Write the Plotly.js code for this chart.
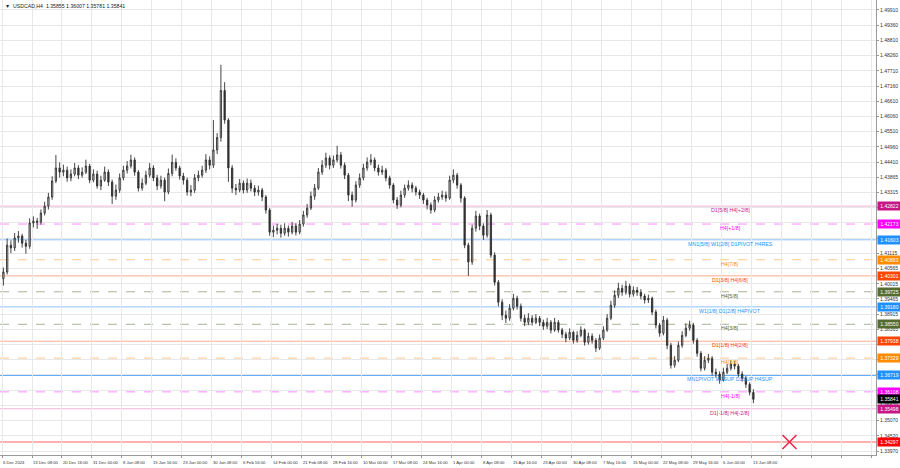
<!DOCTYPE html>
<html><head><meta charset="utf-8">
<script src="https://cdn.plot.ly/plotly-3.0.1.min.js"></script>
<style>html,body{margin:0;padding:0;background:#fff}#chart{width:900px;height:468px}</style>
</head><body><div id="chart"></div>
<script>
// H4 bars grouped by 4 (one candle = 4 H4 bars)
const openP = [1.4020,
1.4044,1.4141,1.4131,1.4167,1.4174,1.4148,1.4137,1.4221,1.4228,1.4224,
1.4257,1.4282,1.4315,1.4373,1.4420,1.4405,1.4412,1.4384,1.4398,1.4420,
1.4394,1.4405,1.4427,1.4376,1.4398,1.4355,1.4376,1.4405,1.4369,1.4318,
1.4340,1.4384,1.4412,1.4427,1.4449,1.4405,1.4347,1.4365,1.4394,1.4420,
1.4384,1.4355,1.4376,1.4333,1.4400,1.4440,1.4420,1.4391,1.4376,1.4333,
1.4340,1.4384,1.4394,1.4412,1.4449,1.4430,1.4485,1.4530,1.4700,1.4593,
1.4420,1.4347,1.4340,1.4365,1.4340,1.4365,1.4347,1.4333,1.4340,1.4315,
1.4268,1.4188,1.4195,1.4202,1.4184,1.4202,1.4188,1.4210,1.4188,1.4217,
1.4250,1.4275,1.4318,1.4347,1.4405,1.4430,1.4456,1.4430,1.4449,1.4467,
1.4430,1.4394,1.4322,1.4304,1.4358,1.4384,1.4420,1.4441,1.4449,1.4420,
1.4405,1.4412,1.4384,1.4358,1.4304,1.4286,1.4322,1.4347,1.4358,1.4347,
1.4333,1.4322,1.4304,1.4286,1.4268,1.4304,1.4315,1.4322,1.4311,1.4376,
1.4394,1.4358,1.4311,1.4141,1.4080,1.4202,1.4246,1.4210,1.4177,1.4250,
1.4105,1.4007,1.3935,1.3888,1.3877,1.3913,1.3949,1.3920,1.3877,1.3862,
1.3877,1.3862,1.3877,1.3862,1.3848,1.3862,1.3834,1.3862,1.3834,1.3819,
1.3805,1.3826,1.3797,1.3815,1.3834,1.3790,1.3812,1.3797,1.3769,1.3805,
1.3834,1.3877,1.3924,1.3960,1.3985,1.3971,1.3993,1.3964,1.3978,1.3971,
1.3957,1.3943,1.3949,1.3899,1.3852,1.3823,1.3870,1.3779,1.3707,1.3725,
1.3779,1.3815,1.3841,1.3852,1.3797,1.3750,1.3696,1.3725,1.3732,1.3682,
1.3675,1.3653,1.3682,1.3696,1.3711,1.3704,1.3675,1.3660,1.3638,1.3609];
const highP = [
1.4060,1.4165,1.4158,1.4185,1.4192,1.4182,1.4160,1.4238,1.4245,1.4240,
1.4270,1.4298,1.4330,1.4390,1.4467,1.4440,1.4432,1.4425,1.4415,1.4438,
1.4430,1.4422,1.4450,1.4435,1.4415,1.4410,1.4392,1.4425,1.4415,1.4378,
1.4360,1.4400,1.4428,1.4445,1.4468,1.4458,1.4412,1.4382,1.4410,1.4438,
1.4430,1.4395,1.4392,1.4385,1.4418,1.4468,1.4455,1.4428,1.4402,1.4385,
1.4358,1.4398,1.4410,1.4428,1.4470,1.4462,1.4593,1.4546,1.4793,1.4730,
1.4600,1.4430,1.4362,1.4380,1.4375,1.4382,1.4378,1.4358,1.4356,1.4348,
1.4322,1.4275,1.4212,1.4218,1.4215,1.4220,1.4212,1.4225,1.4220,1.4232,
1.4265,1.4290,1.4335,1.4362,1.4420,1.4448,1.4475,1.4465,1.4465,1.4500,
1.4478,1.4440,1.4402,1.4335,1.4372,1.4400,1.4435,1.4458,1.4470,1.4458,
1.4432,1.4428,1.4420,1.4392,1.4365,1.4315,1.4338,1.4360,1.4375,1.4368,
1.4355,1.4342,1.4330,1.4312,1.4295,1.4318,1.4330,1.4338,1.4335,1.4392,
1.4415,1.4402,1.4365,1.4318,1.4150,1.4215,1.4265,1.4255,1.4220,1.4268,
1.4258,1.4115,1.4015,1.3945,1.3905,1.3928,1.3965,1.3958,1.3930,1.3890,
1.3895,1.3888,1.3892,1.3885,1.3872,1.3878,1.3870,1.3878,1.3870,1.3842,
1.3828,1.3840,1.3832,1.3830,1.3848,1.3840,1.3825,1.3822,1.3805,1.3818,
1.3848,1.3892,1.3940,1.3978,1.4005,1.3998,1.4012,1.4002,1.3992,1.3990,
1.3982,1.3965,1.3962,1.3955,1.3908,1.3860,1.3885,1.3878,1.3788,1.3740,
1.3792,1.3830,1.3858,1.3868,1.3860,1.3805,1.3758,1.3740,1.3748,1.3740,
1.3695,1.3685,1.3698,1.3712,1.3725,1.3722,1.3712,1.3685,1.3668,1.3645,
1.3620];
const lowP = [
1.3995,1.4035,1.4112,1.4120,1.4150,1.4132,1.4110,1.4128,1.4205,1.4200,
1.4215,1.4248,1.4270,1.4305,1.4365,1.4385,1.4390,1.4370,1.4372,1.4390,
1.4380,1.4385,1.4398,1.4365,1.4368,1.4345,1.4340,1.4370,1.4355,1.4290,
1.4305,1.4330,1.4375,1.4400,1.4418,1.4392,1.4335,1.4338,1.4358,1.4385,
1.4372,1.4340,1.4345,1.4300,1.4325,1.4390,1.4410,1.4378,1.4360,1.4320,
1.4318,1.4330,1.4372,1.4385,1.4402,1.4415,1.4420,1.4470,1.4515,1.4580,
1.4370,1.4330,1.4322,1.4332,1.4328,1.4330,1.4335,1.4318,1.4320,1.4300,
1.4255,1.4175,1.4170,1.4180,1.4168,1.4175,1.4172,1.4180,1.4176,1.4180,
1.4208,1.4240,1.4268,1.4305,1.4340,1.4395,1.4420,1.4415,1.4420,1.4440,
1.4418,1.4380,1.4300,1.4280,1.4295,1.4348,1.4375,1.4410,1.4430,1.4408,
1.4392,1.4395,1.4372,1.4345,1.4292,1.4272,1.4278,1.4312,1.4338,1.4332,
1.4320,1.4308,1.4290,1.4270,1.4255,1.4260,1.4295,1.4305,1.4298,1.4305,
1.4365,1.4345,1.4295,1.4130,1.4030,1.4070,1.4190,1.4195,1.4160,1.4168,
1.4095,1.3995,1.3920,1.3870,1.3860,1.3868,1.3905,1.3908,1.3865,1.3848,
1.3852,1.3850,1.3855,1.3848,1.3835,1.3838,1.3822,1.3828,1.3825,1.3805,
1.3790,1.3798,1.3785,1.3788,1.3808,1.3778,1.3782,1.3785,1.3755,1.3762,
1.3798,1.3828,1.3870,1.3915,1.3950,1.3958,1.3962,1.3952,1.3955,1.3958,
1.3945,1.3930,1.3932,1.3888,1.3840,1.3810,1.3815,1.3765,1.3695,1.3698,
1.3718,1.3770,1.3808,1.3832,1.3785,1.3738,1.3685,1.3688,1.3715,1.3670,
1.3662,1.3640,1.3648,1.3675,1.3688,1.3692,1.3665,1.3648,1.3625,1.3598,
1.3570];
const closeP = [
1.4044,1.4141,1.4131,1.4167,1.4174,1.4148,1.4137,1.4221,1.4228,1.4224,
1.4257,1.4282,1.4315,1.4373,1.4420,1.4405,1.4412,1.4384,1.4398,1.4420,
1.4394,1.4405,1.4427,1.4376,1.4398,1.4355,1.4376,1.4405,1.4369,1.4318,
1.4340,1.4384,1.4412,1.4427,1.4449,1.4405,1.4347,1.4365,1.4394,1.4420,
1.4384,1.4355,1.4376,1.4333,1.4400,1.4440,1.4420,1.4391,1.4376,1.4333,
1.4340,1.4384,1.4394,1.4412,1.4449,1.4430,1.4485,1.4530,1.4700,1.4593,
1.4420,1.4347,1.4340,1.4365,1.4340,1.4365,1.4347,1.4333,1.4340,1.4315,
1.4268,1.4188,1.4195,1.4202,1.4184,1.4202,1.4188,1.4210,1.4188,1.4217,
1.4250,1.4275,1.4318,1.4347,1.4405,1.4430,1.4456,1.4430,1.4449,1.4467,
1.4430,1.4394,1.4322,1.4304,1.4358,1.4384,1.4420,1.4441,1.4449,1.4420,
1.4405,1.4412,1.4384,1.4358,1.4304,1.4286,1.4322,1.4347,1.4358,1.4347,
1.4333,1.4322,1.4304,1.4286,1.4268,1.4304,1.4315,1.4322,1.4311,1.4376,
1.4394,1.4358,1.4311,1.4141,1.4080,1.4202,1.4246,1.4210,1.4177,1.4250,
1.4105,1.4007,1.3935,1.3888,1.3877,1.3913,1.3949,1.3920,1.3877,1.3862,
1.3877,1.3862,1.3877,1.3862,1.3848,1.3862,1.3834,1.3862,1.3834,1.3819,
1.3805,1.3826,1.3797,1.3815,1.3834,1.3790,1.3812,1.3797,1.3769,1.3805,
1.3834,1.3877,1.3924,1.3960,1.3985,1.3971,1.3993,1.3964,1.3978,1.3971,
1.3957,1.3943,1.3949,1.3899,1.3852,1.3823,1.3870,1.3779,1.3707,1.3725,
1.3779,1.3815,1.3841,1.3852,1.3797,1.3750,1.3696,1.3725,1.3732,1.3682,
1.3675,1.3653,1.3682,1.3696,1.3711,1.3704,1.3675,1.3660,1.3638,1.3609,
1.3584];

const timeLabels = ['6 Dec 2024','13 Dec 08:00','20 Dec 16:00','31 Dec 00:00','8 Jan 08:00','15 Jan 16:00',
'23 Jan 00:00','30 Jan 08:00','6 Feb 16:00','14 Feb 00:00','21 Feb 08:00','28 Feb 16:00','10 Mar 00:00',
'17 Mar 08:00','24 Mar 16:00','1 Apr 00:00','8 Apr 08:00','15 Apr 16:00','23 Apr 00:00','30 Apr 08:00',
'7 May 16:00','15 May 00:00','22 May 08:00','29 May 16:00','6 Jun 00:00','13 Jun 08:00'];

// price scale grid values and the labels that remain visible on the scale
const priceTicks = [1.49910,1.49360,1.48810,1.48260,1.47710,1.47160,1.46610,1.46060,1.45510,1.44960,
1.44410,1.43865,1.43315,1.42765,1.42215,1.41665,1.41115,1.40565,1.40015,1.39465,1.38915,1.38365,
1.37815,1.37265,1.36720,1.36170,1.35620,1.35070,1.34520,1.33970];
const priceTickText = ['1.49910','1.49360','1.48810','1.48260','1.47710','1.47160','1.46610','1.46060','1.45510','1.44960',
'1.44410','1.43865','1.43315','','','1.41665','1.41115','1.40565','1.40015','1.39465','1.38915','1.38365',
'','','','1.36170','1.35620','1.35070','1.34520','1.33970'];

const levelPrices = [1.42822,1.42173,1.41603,1.40883,1.40301,1.39725,1.39180,1.38550,1.37938,1.37329,1.36719,1.36108,1.35498];
const levelNames = ['D1[5/8] H4[+2/8]','H4[+1/8]','MN1[5/8] W1[2/8] D1PIVOT H4RES','H4[7/8]','D1[3/8] H4[6/8]',
'H4[5/8]','W1[1/8] D1[2/8] H4PIVOT','H4[3/8]','D1[1/8] H4[2/8]','H4[1/8]','MN1PIVOT W1SUP D1SUP H4SUP',
'H4[-1/8]','D1[-1/8] H4[-2/8]'];
const levelColors = ['#c71585','#ff00ff','#1e90ff','#ff8c00','#ff4500','#556b2f','#1e90ff','#556b2f','#ff4500','#ff8c00','#1e90ff','#ff00ff','#c71585'];
const levelLineColors = ['#f4b3dc','#ff8cff','#8cc4ff','#ffc98c','#ffab8c','#a9b597','#8cc4ff','#a9b597','#ffab8c','#ffc98c','#62aefc','#ff8cff','#f4b3dc'];
const levelDash = ['solid','dash','solid','dash','solid','dash','solid','dash','solid','dash','solid','dash','solid'];
const levelWidth = [1,1,1,1,1,1,1,1,1,1,2,1,1];

const bidPrice = 1.35841;
const redLevel = 1.34297;
const markerBar = 840;
const titleText = '\u25BC  USDCAD,H4  1.35855 1.36007 1.35781 1.35841';

// ---- build ----
const BARS_PER_CANDLE = 4, BARS_PER_LABEL = 32;
const xs = closeP.map((_, k) => BARS_PER_CANDLE * k + 1.5);
const gridX = [];
for (let j = 0; j < 30; j++) gridX.push(BARS_PER_LABEL * j);

const FONT = 'Liberation Sans, Arial, sans-serif';
const traces = [
  {type: 'candlestick', x: xs, open: openP, high: highP, low: lowP, close: closeP,
   whiskerwidth: 0, hoverinfo: 'skip',
   increasing: {line: {color: '#303030', width: 0.9}, fillcolor: '#d8d8d8'},
   decreasing: {line: {color: '#303030', width: 0.9}, fillcolor: '#303030'}},
  {type: 'scatter', mode: 'markers', x: [markerBar], y: [redLevel], hoverinfo: 'skip',
   marker: {symbol: 'x-thin-open', size: 14, line: {color: '#f0284a', width: 1.6}, color: '#f0284a'}}
];

const shapes = [];
const annotations = [];
levelPrices.forEach((p, i) => {
  shapes.push({type: 'line', xref: 'paper', x0: 0, x1: 1, yref: 'y', y0: p, y1: p,
    line: {color: levelLineColors[i], width: levelWidth[i], dash: levelDash[i]}, layer: 'below'});
  annotations.push({xref: 'paper', x: 730 / 876, yref: 'y', y: p, yanchor: 'top', xanchor: 'center',
    text: levelNames[i], showarrow: false, yshift: 1, font: {family: FONT, size: 5.3, color: levelColors[i]}});
});
shapes.push({type: 'line', xref: 'paper', x0: 0, x1: 1, yref: 'y', y0: redLevel, y1: redLevel,
  line: {color: '#ff6060', width: 1}, layer: 'below'});

const boxes = levelPrices.map((p, i) => [p, levelColors[i]]);
boxes.push([bidPrice, '#000000']);
boxes.push([redLevel, '#ff0000']);
boxes.forEach(([p, c]) => {
  annotations.push({xref: 'paper', x: 1, xanchor: 'left', xshift: 1, yref: 'y', y: p, yanchor: 'middle',
    text: p.toFixed(5), showarrow: false, bgcolor: c, borderpad: 1, width: 21, height: 6,
    font: {family: FONT, size: 5, color: '#ffffff'}});
});

timeLabels.forEach((t, j) => {
  annotations.push({xref: 'x', x: BARS_PER_LABEL * j, xanchor: 'left', xshift: -1, yref: 'paper', y: 0,
    yanchor: 'top', yshift: -3, text: t, showarrow: false, font: {family: FONT, size: 4.2, color: '#333'}});
});

annotations.push({xref: 'paper', x: 0, xanchor: 'left', xshift: 3, yref: 'paper', y: 1, yanchor: 'top', yshift: -1,
  text: titleText, showarrow: false, font: {family: FONT, size: 5.2, color: '#222'}});

const layout = {
  width: 900, height: 468,
  margin: {l: 0, r: 24, t: 0, b: 13, pad: 0},
  paper_bgcolor: '#ffffff', plot_bgcolor: '#ffffff',
  showlegend: false, boxgap: 0.5,
  xaxis: {range: [-2.13, 932.3], tickmode: 'array', tickvals: gridX, showticklabels: false,
    showgrid: true, gridcolor: '#e8e8e8', gridwidth: 1, zeroline: false,
    ticks: 'outside', ticklen: 2, tickcolor: '#999',
    showline: true, linecolor: '#9a9a9a', linewidth: 1, mirror: true,
    rangeslider: {visible: false}, fixedrange: true},
  yaxis: {range: [1.33826, 1.5027], side: 'right', tickmode: 'array', tickvals: priceTicks,
    ticktext: priceTickText, showgrid: true, gridcolor: '#e8e8e8', gridwidth: 1,
    zeroline: false, ticks: 'outside', ticklen: 2, tickcolor: '#999',
    tickfont: {family: FONT, size: 5, color: '#333'},
    showline: true, linecolor: '#9a9a9a', linewidth: 1, mirror: true, fixedrange: true},
  shapes: shapes, annotations: annotations
};

Plotly.newPlot('chart', traces, layout, {staticPlot: true, displayModeBar: false});
</script>
</body></html>
